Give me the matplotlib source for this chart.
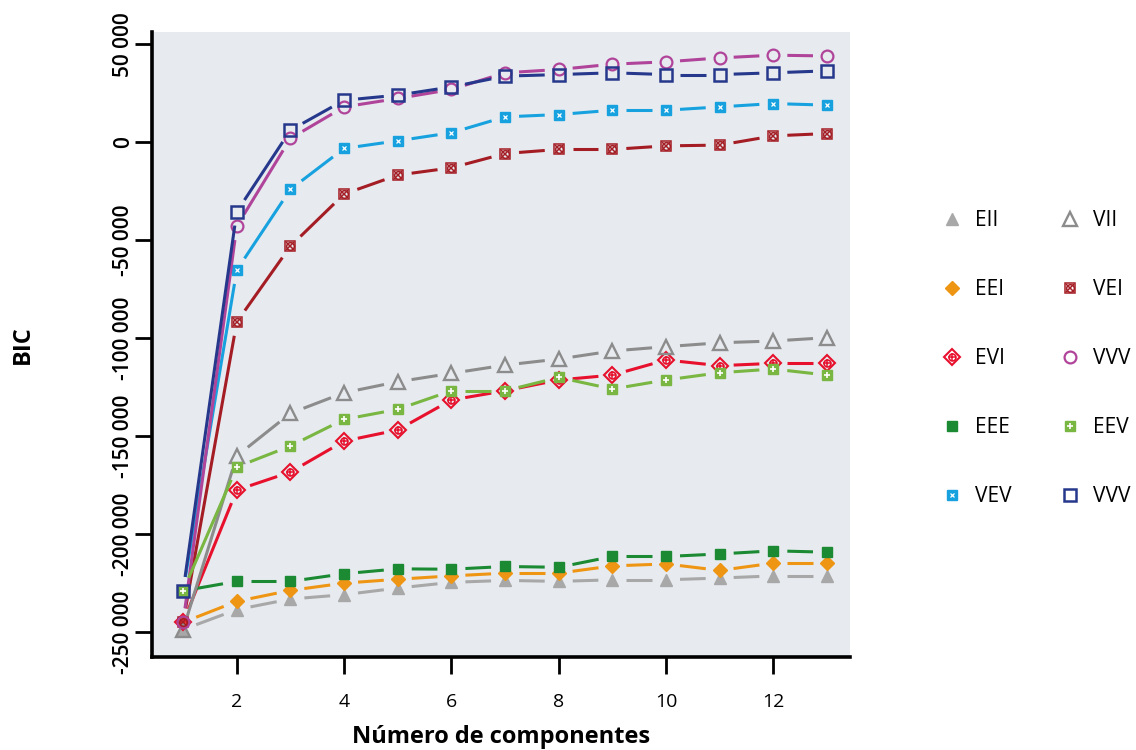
import numpy as np
import matplotlib
matplotlib.use("Agg")
import matplotlib.pyplot as plt
from matplotlib.legend_handler import HandlerTuple
from matplotlib.lines import Line2D
from matplotlib.ticker import FuncFormatter

plt.rcParams['font.family'] = ['Open Sans', 'DejaVu Sans']

# number of mixture components
k = np.arange(1, 14)

# BIC values per covariance model
EII = [-248800, -238600, -233200, -231000, -227600, -224700, -223700, -224200, -223400, -223400, -222500, -221400, -221400]
EEI = [-245100, -234400, -228800, -225100, -223100, -221400, -220000, -220000, -216300, -215300, -218600, -214900, -214900]
EVI = [-245000, -177600, -168400, -152600, -146900, -131600, -126900, -121400, -118900, -111200, -114100, -112900, -112900]
EEE = [-229000, -224200, -224200, -220300, -217800, -218000, -216600, -217000, -211500, -211500, -210200, -208600, -209300]
VEV = [-229000, -65300, -24100, -3200, 700, 4800, 12900, 14100, 16300, 16300, 18000, 19700, 18900]
VII = [-248800, -160200, -138400, -127900, -122300, -118000, -113800, -110700, -106600, -104400, -102400, -101500, -99800]
VEI = [-245000, -91800, -53100, -26500, -16800, -13100, -5800, -3700, -3700, -1900, -1500, 3200, 4400]
VVV1 = [-245000, -42900, 1900, 18000, 22300, 26900, 35400, 37100, 39800, 41000, 43000, 44400, 44000]
EEV = [-229000, -165800, -155100, -141500, -136400, -126900, -126900, -120100, -126000, -121400, -117700, -115800, -118900]
VVV2 = [-229000, -35500, 6100, 21400, 24000, 28200, 33700, 34500, 35400, 34500, 34500, 35400, 36400]

fig = plt.figure(figsize=(11.36, 7.5), dpi=100)
ax = fig.add_axes([0.1338, 0.124, 0.6145, 0.833])
ax.set_facecolor('#e7ebef')
ax.set_xlim(0.42, 13.43)
ax.set_ylim(-262800, 56100)

# (label, values, colour, marker layers)
series = [
    ('EII', EII, '#a8a8a8', [dict(marker='^', ms=9, mfc='#a8a8a8', mec='#a8a8a8')]),
    ('EEI', EEI, '#ef9514', [dict(marker='D', ms=7, mfc='#ef9514', mec='#ef9514')]),
    ('EVI', EVI, '#e8112d', [dict(marker='D', ms=8, mfc='none', mec='#e8112d', mew=1.5),
                             dict(marker='o', ms=5, mfc='none', mec='#e8112d', mew=1.2),
                             dict(marker='+', ms=5.5, mec='#e8112d', mew=1.1)]),
    ('EEE', EEE, '#1b8a33', [dict(marker='s', ms=7.5, mfc='#1b8a33', mec='#1b8a33')]),
    ('VEV', VEV, '#17a2df', [dict(marker='s', ms=7.5, mfc='#17a2df', mec='#17a2df'),
                             dict(marker='x', ms=3.5, mec='white', mew=0.9)]),
    ('VII', VII, '#8c8c8c', [dict(marker='^', ms=10, mfc='none', mec='#8c8c8c', mew=1.7)]),
    ('VEI', VEI, '#a51d24', [dict(marker='s', ms=7, mfc='none', mec='#a51d24', mew=1.1),
                             dict(marker='o', ms=5.5, mfc='none', mec='#a51d24', mew=1.1),
                             dict(marker='x', ms=5.5, mec='#a51d24', mew=1.1)]),
    ('VVV', VVV1, '#b0449a', [dict(marker='o', ms=8.5, mfc='none', mec='#b0449a', mew=1.6)]),
    ('EEV', EEV, '#79b642', [dict(marker='s', ms=7.5, mfc='#79b642', mec='#79b642'),
                             dict(marker='+', ms=4.5, mec='white', mew=1.2)]),
    ('VVV', VVV2, '#26388c', [dict(marker='s', ms=8, mfc='none', mec='#26388c', mew=1.8)]),
]

fig.canvas.draw()
to_px = ax.transData
gap = 14  # px left free around each point, like R type="b"


def gapped_segments(xs, ys):
    pts = to_px.transform(np.column_stack([xs, ys]))
    segs = []
    for p, q in zip(pts[:-1], pts[1:]):
        d = q - p
        n = np.hypot(*d)
        if n <= 2 * gap:
            continue
        u = d / n
        a = to_px.inverted().transform(p + u * gap)
        b = to_px.inverted().transform(q - u * gap)
        segs.append((a, b))
    return segs


handles = []
for name, vals, col, layers in series:
    for a, b in gapped_segments(k, vals):
        ax.plot([a[0], b[0]], [a[1], b[1]], color=col, lw=2.2, solid_capstyle='butt')
    hs = []
    for lay in layers:
        ax.plot(k, vals, linestyle='none', color=col, **lay)
        hs.append(Line2D([], [], linestyle='none', color=col, **lay))
    handles.append((tuple(hs), name))

for s in ['top', 'right']:
    ax.spines[s].set_visible(False)
for s in ['left', 'bottom']:
    ax.spines[s].set_linewidth(2.6)
    ax.spines[s].set_color('black')

ax.set_xticks([2, 4, 6, 8, 10, 12])
ax.set_yticks([50000, 0, -50000, -100000, -150000, -200000, -250000])
ax.yaxis.set_major_formatter(FuncFormatter(lambda v, p: '{:,.0f}'.format(v).replace(',', ' ')))
ax.tick_params(axis='both', direction='out', length=12, width=2, colors='black')
ax.tick_params(axis='x', labelsize=14, pad=14)
ax.tick_params(axis='y', labelsize=15, pad=1)
for lab in ax.get_yticklabels():
    lab.set_rotation(90)
    lab.set_va('center')
    lab.set_fontweight('semibold')

ax.set_xlabel('Número de componentes', fontsize=17, fontweight='bold', labelpad=10)
ax.set_ylabel('BIC', fontsize=17, fontweight='bold', labelpad=56)

fig.legend([h for h, _ in handles], [n for _, n in handles],
           handler_map={tuple: HandlerTuple(ndivide=1)},
           ncol=2, loc='center left', bbox_to_anchor=(0.829, 0.522),
           frameon=False, fontsize=15, labelspacing=2.3, handlelength=1.0,
           handletextpad=0.6, columnspacing=2.3, borderaxespad=0, borderpad=0)

fig.savefig('out.png', dpi=100)
